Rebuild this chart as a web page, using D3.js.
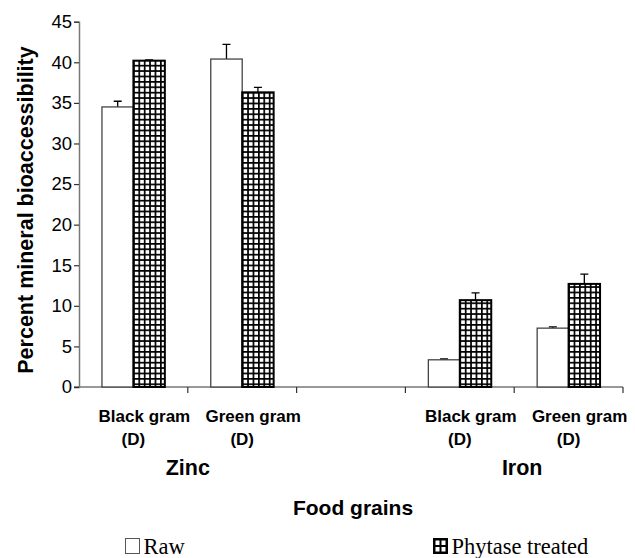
<!DOCTYPE html>
<html>
<head>
<meta charset="utf-8">
<script src="https://cdn.jsdelivr.net/npm/d3@7"></script>
<style>
  body { margin: 0; background: #fff; }
  text { font-family: "Liberation Sans", Arial, sans-serif; }
</style>
</head>
<body>
<div id="chart"></div>
<script>
// categories along the x axis (the empty slot is the gap between the two minerals)
const categories = ["zn-black", "zn-green", "gap", "fe-black", "fe-green"];
const categoryLines = [["Black gram", "(D)"], ["Green gram", "(D)"], [], ["Black gram", "(D)"], ["Green gram", "(D)"]];
const groups = [["Zinc", "zn-black", "zn-green"], ["Iron", "fe-black", "fe-green"]];
const series = ["Raw", "Phytase treated"];
const rawValues = [34.5, 40.4, null, 3.35, 7.25];
const rawErrors = [0.7, 1.8, null, 0.1, 0.15];
const phytaseValues = [40.2, 36.3, null, 10.7, 12.7];
const phytaseErrors = [0.1, 0.6, null, 0.9, 1.2];
const yTicks = [0, 5, 10, 15, 20, 25, 30, 35, 40, 45];

const width = 635, height = 558;
const plotLeft = 79, plotRight = 623, plotTop = 21.7, plotBottom = 387;

const svg = d3.select("#chart").append("svg")
    .attr("width", width).attr("height", height);

// grid pattern for phytase bars
const defs = svg.append("defs");
const pat = defs.append("pattern").attr("id", "grid")
    .attr("patternUnits", "userSpaceOnUse")
    .attr("width", 5.4).attr("height", 5.4);
pat.append("rect").attr("width", 5.4).attr("height", 5.4).attr("fill", "#fff");
pat.append("rect").attr("width", 1.7).attr("height", 5.4).attr("fill", "#000");
pat.append("rect").attr("width", 5.4).attr("height", 1.7).attr("fill", "#000");

const y = d3.scaleLinear().domain([0, 45]).range([plotBottom, plotTop]);
const x0 = d3.scaleBand().domain(categories).range([plotLeft, plotRight]).padding(0);
const x1 = d3.scaleBand().domain(series).range([0, x0.bandwidth()]).paddingInner(0).paddingOuter(0.73);

// x axis: line with ticks at the category boundaries
const xg = svg.append("g");
xg.append("line").attr("x1", plotLeft - 5).attr("x2", plotRight).attr("y1", plotBottom).attr("y2", plotBottom)
    .attr("stroke", "#777").attr("stroke-width", 1.5);
xg.selectAll(".xtick").data(categories).enter().append("line")
    .attr("x1", d => x0(d) + x0.bandwidth()).attr("x2", d => x0(d) + x0.bandwidth())
    .attr("y1", plotBottom).attr("y2", plotBottom + 6)
    .attr("stroke", "#333").attr("stroke-width", 1.2);

// y axis
const yAxis = svg.append("g").attr("transform", `translate(${plotLeft},0)`)
    .call(d3.axisLeft(y).tickValues(yTicks).tickSize(5).tickPadding(2));
yAxis.select(".domain").attr("stroke", "#777").attr("stroke-width", 1.5);
yAxis.selectAll(".tick line").attr("stroke", "#333").attr("stroke-width", 1.2);
yAxis.selectAll(".tick text").style("font-size", "18.5px").attr("fill", "#000");

// bars
const rows = categories.map((c, i) => ({
    cat: c,
    vals: [
        { s: "Raw", v: rawValues[i], e: rawErrors[i] },
        { s: "Phytase treated", v: phytaseValues[i], e: phytaseErrors[i] }
    ]
})).filter(d => d.vals[0].v != null);

const barG = svg.selectAll(".cat").data(rows).enter().append("g")
    .attr("transform", d => `translate(${x0(d.cat)},0)`);

// error bars (upper only)
barG.selectAll(".err").data(d => d.vals).enter().append("path")
    .attr("d", d => {
        const cx = x1(d.s) + x1.bandwidth() / 2;
        const yt = y(d.v + d.e);
        return `M${cx},${y(d.v)}V${yt}M${cx - 4},${yt}H${cx + 4}`;
    })
    .attr("fill", "none").attr("stroke", "#000").attr("stroke-width", 1.3);

barG.selectAll(".bar").data(d => d.vals).enter().append("rect")
    .attr("x", d => x1(d.s)).attr("width", x1.bandwidth())
    .attr("y", d => y(d.v)).attr("height", d => y(0) - y(d.v))
    .attr("fill", d => d.s === "Raw" ? "#fff" : "url(#grid)")
    .attr("stroke", d => d.s === "Raw" ? "#444" : "#000")
    .attr("stroke-width", d => d.s === "Raw" ? 1.3 : 2);

// category labels
const labG = svg.selectAll(".clab").data(categories.map((c, i) => ({ c, lines: categoryLines[i] })))
    .enter().append("g");
labG.each(function(d) {
    const cx = x0(d.c) + x0.bandwidth() / 2;
    d3.select(this).selectAll("text").data(d.lines).enter().append("text")
        .attr("x", (t, i) => i === 0 ? cx + 11 : cx)
        .attr("y", (t, i) => i === 0 ? 421.5 : 445)
        .attr("text-anchor", "middle")
        .attr("font-size", 17).attr("font-weight", "bold")
        .text(t => t);
});

// mineral group labels
svg.selectAll(".glab").data(groups).enter().append("text")
    .attr("x", (d, i) => (x0(d[1]) + x0(d[2]) + x0.bandwidth()) / 2 + (i === 1 ? 8 : 0))
    .attr("y", 475)
    .attr("text-anchor", "middle")
    .attr("font-size", 21.5).attr("font-weight", "bold")
    .text(d => d[0]);

// axis titles
svg.append("text")
    .attr("x", (plotLeft + plotRight) / 2 + 2).attr("y", 515)
    .attr("text-anchor", "middle")
    .attr("font-size", 21).attr("font-weight", "bold")
    .text("Food grains");

svg.append("text")
    .attr("transform", "translate(33,210) rotate(-90)")
    .attr("text-anchor", "middle")
    .attr("font-size", 21.5).attr("font-weight", "bold")
    .text("Percent mineral bioaccessibility");

// legend
const legend = svg.selectAll(".leg").data(series).enter().append("g")
    .attr("transform", (d, i) => `translate(${i === 0 ? 125.5 : 433.5},538.5)`);
legend.append("rect")
    .attr("width", 14).attr("height", 15)
    .attr("fill", (d, i) => i === 0 ? "#fff" : "#000")
    .attr("stroke", (d, i) => i === 0 ? "#555" : "#000").attr("stroke-width", 1);
legend.filter((d, i) => i === 1).each(function() {
    const g = d3.select(this);
    [[2, 2], [8, 2], [2, 8.5], [8, 8.5]].forEach(p => {
        g.append("rect").attr("x", p[0]).attr("y", p[1]).attr("width", 4).attr("height", 4.5).attr("fill", "#fff");
    });
});
legend.append("text")
    .attr("x", 18).attr("y", 15.5)
    .style("font-family", "'Liberation Serif', 'Times New Roman', serif")
    .attr("font-size", 22.5)
    .text(d => d);
</script>
</body>
</html>
